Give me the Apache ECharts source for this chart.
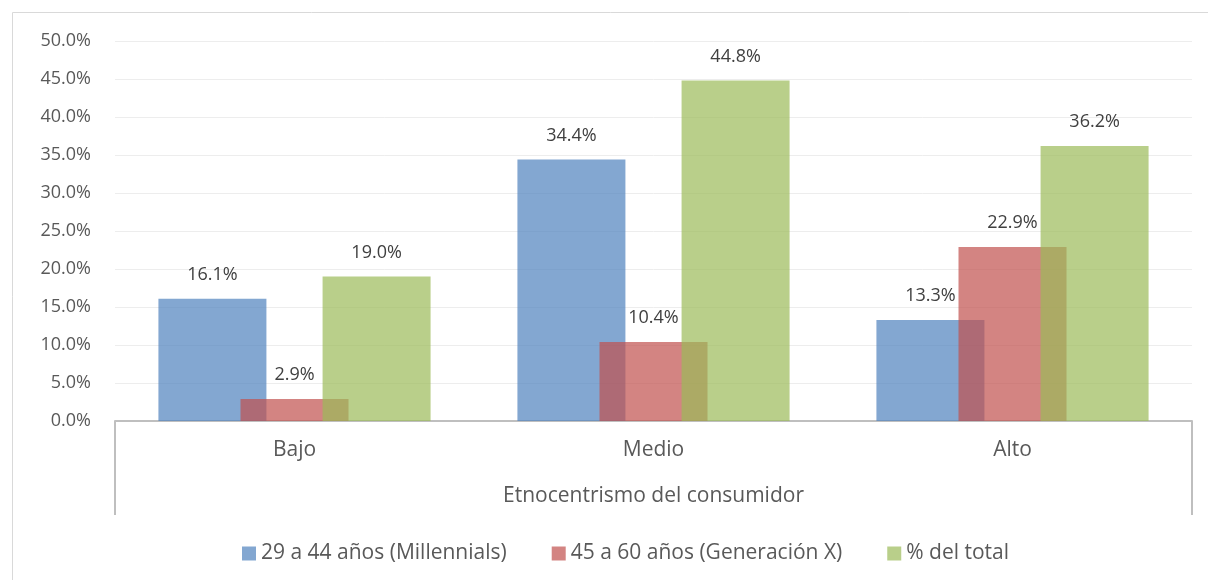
<!DOCTYPE html>
<html>
<head>
<meta charset="utf-8">
<script src="https://cdn.jsdelivr.net/npm/echarts@6/dist/echarts.min.js"></script>
<style>
  html, body { margin: 0; padding: 0; background: #fff; }
  #chart { width: 1208px; height: 580px; }
</style>
</head>
<body>
<div id="chart"></div>
<script>
// datos
var categories = ['Bajo', 'Medio', 'Alto'];
var groupLabel = ['Etnocentrismo del consumidor'];
var millennials = [16.1, 34.4, 13.3];
var generacionX = [2.9, 10.4, 22.9];
var total = [19.0, 44.8, 36.2];
var seriesNames = ['29 a 44 años (Millennials)', '45 a 60 años (Generación X)', '% del total'];
var colors = ['rgba(79,129,189,0.7)', 'rgba(192,80,77,0.7)', 'rgba(155,187,89,0.7)'];

var font = '"Open Sans", "DejaVu Sans", sans-serif';

function barSerie(name, data, color) {
    return {
        name: name,
        type: 'bar',
        xAxisIndex: 0,
        data: data,
        barWidth: 108,
        barGap: '-24%',
        itemStyle: { color: color },
        label: {
            show: true,
            position: 'top',
            distance: 15,
            fontFamily: font,
            fontSize: 18,
            color: '#404040',
            formatter: function(p) { return p.value.toFixed(1) + '%'; }
        }
    };
}

var myChart = echarts.init(document.getElementById('chart'));
myChart.setOption({
    animation: false,
    graphic: [{
        type: 'rect',
        shape: { x: 12.5, y: 12.5, width: 1220, height: 620 },
        style: { fill: 'none', stroke: '#D9D9D9', lineWidth: 1 },
        silent: true
    }],
    grid: { left: 115, right: 16, top: 41, bottom: 159 },
    legend: {
        left: 237,
        top: 538,
        itemWidth: 14,
        itemHeight: 14,
        itemGap: 45,
        icon: 'rect',
        textStyle: {
            fontFamily: font,
            fontSize: 21,
            color: '#595959'
        },
        data: seriesNames
    },
    xAxis: [{
        type: 'category',
        data: categories,
        axisLine: { lineStyle: { color: '#BFBFBF', width: 2 } },
        axisTick: { show: false },
        axisLabel: { margin: 19, fontFamily: font, fontSize: 21, color: '#595959' }
    }, {
        type: 'category',
        data: groupLabel,
        position: 'bottom',
        axisLine: { show: false },
        axisTick: { show: true, length: 94, lineStyle: { color: '#BFBFBF', width: 2 } },
        axisLabel: { margin: 65, fontFamily: font, fontSize: 21, color: '#595959' },
        splitLine: { show: false }
    }],
    yAxis: {
        type: 'value',
        min: 0,
        max: 50,
        interval: 5,
        axisLine: { show: false },
        axisTick: { show: false },
        splitLine: { lineStyle: { color: '#EDEDED', width: 1 } },
        axisLabel: {
            margin: 24,
            fontFamily: font,
            fontSize: 18,
            color: '#595959',
            formatter: function(v) { return v.toFixed(1) + '%'; }
        }
    },
    series: [
        barSerie(seriesNames[0], millennials, colors[0]),
        barSerie(seriesNames[1], generacionX, colors[1]),
        barSerie(seriesNames[2], total, colors[2])
    ]
});
</script>
</body>
</html>
